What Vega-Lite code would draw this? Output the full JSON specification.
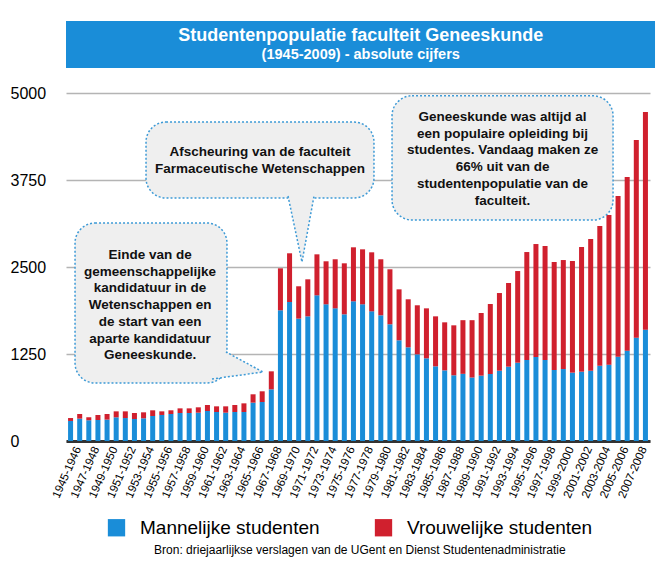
{
  "$schema": "https://vega.github.io/schema/vega-lite/v6.json",
  "width": 584,
  "height": 348,
  "autosize": {"type": "none"},
  "padding": {"left": 66, "top": 93, "right": 13, "bottom": 130},
  "background": "white",
  "config": {"view": {"stroke": null}, "font": "Liberation Sans"},
  "datasets": {
    "studenten": [
      {"jaar": "1945-1946", "Mannelijke studenten": 288, "Vrouwelijke studenten": 42},
      {"jaar": "1946-1947", "Mannelijke studenten": 321, "Vrouwelijke studenten": 67},
      {"jaar": "1947-1948", "Mannelijke studenten": 297, "Vrouwelijke studenten": 43},
      {"jaar": "1948-1949", "Mannelijke studenten": 302, "Vrouwelijke studenten": 72},
      {"jaar": "1949-1950", "Mannelijke studenten": 307, "Vrouwelijke studenten": 81},
      {"jaar": "1950-1951", "Mannelijke studenten": 340, "Vrouwelijke studenten": 86},
      {"jaar": "1951-1952", "Mannelijke studenten": 330, "Vrouwelijke studenten": 96},
      {"jaar": "1952-1953", "Mannelijke studenten": 316, "Vrouwelijke studenten": 86},
      {"jaar": "1953-1954", "Mannelijke studenten": 326, "Vrouwelijke studenten": 86},
      {"jaar": "1954-1955", "Mannelijke studenten": 359, "Vrouwelijke studenten": 82},
      {"jaar": "1955-1956", "Mannelijke studenten": 374, "Vrouwelijke studenten": 52},
      {"jaar": "1956-1957", "Mannelijke studenten": 388, "Vrouwelijke studenten": 53},
      {"jaar": "1957-1958", "Mannelijke studenten": 402, "Vrouwelijke studenten": 67},
      {"jaar": "1958-1959", "Mannelijke studenten": 402, "Vrouwelijke studenten": 67},
      {"jaar": "1959-1960", "Mannelijke studenten": 407, "Vrouwelijke studenten": 77},
      {"jaar": "1960-1961", "Mannelijke studenten": 431, "Vrouwelijke studenten": 86},
      {"jaar": "1961-1962", "Mannelijke studenten": 417, "Vrouwelijke studenten": 81},
      {"jaar": "1962-1963", "Mannelijke studenten": 407, "Vrouwelijke studenten": 91},
      {"jaar": "1963-1964", "Mannelijke studenten": 417, "Vrouwelijke studenten": 100},
      {"jaar": "1964-1965", "Mannelijke studenten": 417, "Vrouwelijke studenten": 124},
      {"jaar": "1965-1966", "Mannelijke studenten": 551, "Vrouwelijke studenten": 120},
      {"jaar": "1966-1967", "Mannelijke studenten": 560, "Vrouwelijke studenten": 154},
      {"jaar": "1967-1968", "Mannelijke studenten": 742, "Vrouwelijke studenten": 259},
      {"jaar": "1968-1969", "Mannelijke studenten": 1878, "Vrouwelijke studenten": 603},
      {"jaar": "1969-1970", "Mannelijke studenten": 1997, "Vrouwelijke studenten": 700},
      {"jaar": "1970-1971", "Mannelijke studenten": 1758, "Vrouwelijke studenten": 465},
      {"jaar": "1971-1972", "Mannelijke studenten": 1791, "Vrouwelijke studenten": 532},
      {"jaar": "1972-1973", "Mannelijke studenten": 2093, "Vrouwelijke studenten": 589},
      {"jaar": "1973-1974", "Mannelijke studenten": 1964, "Vrouwelijke studenten": 618},
      {"jaar": "1974-1975", "Mannelijke studenten": 1906, "Vrouwelijke studenten": 705},
      {"jaar": "1975-1976", "Mannelijke studenten": 1820, "Vrouwelijke studenten": 733},
      {"jaar": "1976-1977", "Mannelijke studenten": 2007, "Vrouwelijke studenten": 776},
      {"jaar": "1977-1978", "Mannelijke studenten": 1964, "Vrouwelijke studenten": 790},
      {"jaar": "1978-1979", "Mannelijke studenten": 1863, "Vrouwelijke studenten": 848},
      {"jaar": "1979-1980", "Mannelijke studenten": 1806, "Vrouwelijke studenten": 805},
      {"jaar": "1980-1981", "Mannelijke studenten": 1677, "Vrouwelijke studenten": 790},
      {"jaar": "1981-1982", "Mannelijke studenten": 1447, "Vrouwelijke studenten": 732},
      {"jaar": "1982-1983", "Mannelijke studenten": 1346, "Vrouwelijke studenten": 690},
      {"jaar": "1983-1984", "Mannelijke studenten": 1245, "Vrouwelijke studenten": 705},
      {"jaar": "1984-1985", "Mannelijke studenten": 1188, "Vrouwelijke studenten": 718},
      {"jaar": "1985-1986", "Mannelijke studenten": 1073, "Vrouwelijke studenten": 718},
      {"jaar": "1986-1987", "Mannelijke studenten": 1015, "Vrouwelijke studenten": 690},
      {"jaar": "1987-1988", "Mannelijke studenten": 944, "Vrouwelijke studenten": 718},
      {"jaar": "1988-1989", "Mannelijke studenten": 965, "Vrouwelijke studenten": 771},
      {"jaar": "1989-1990", "Mannelijke studenten": 912, "Vrouwelijke studenten": 824},
      {"jaar": "1990-1991", "Mannelijke studenten": 939, "Vrouwelijke studenten": 900},
      {"jaar": "1991-1992", "Mannelijke studenten": 963, "Vrouwelijke studenten": 1005},
      {"jaar": "1992-1993", "Mannelijke studenten": 1010, "Vrouwelijke studenten": 1116},
      {"jaar": "1993-1994", "Mannelijke studenten": 1068, "Vrouwelijke studenten": 1202},
      {"jaar": "1994-1995", "Mannelijke studenten": 1125, "Vrouwelijke studenten": 1317},
      {"jaar": "1995-1996", "Mannelijke studenten": 1164, "Vrouwelijke studenten": 1551},
      {"jaar": "1996-1997", "Mannelijke studenten": 1207, "Vrouwelijke studenten": 1623},
      {"jaar": "1997-1998", "Mannelijke studenten": 1164, "Vrouwelijke studenten": 1638},
      {"jaar": "1998-1999", "Mannelijke studenten": 1020, "Vrouwelijke studenten": 1552},
      {"jaar": "1999-2000", "Mannelijke studenten": 1034, "Vrouwelijke studenten": 1566},
      {"jaar": "2000-2001", "Mannelijke studenten": 982, "Vrouwelijke studenten": 1604},
      {"jaar": "2001-2002", "Mannelijke studenten": 996, "Vrouwelijke studenten": 1791},
      {"jaar": "2002-2003", "Mannelijke studenten": 1010, "Vrouwelijke studenten": 1892},
      {"jaar": "2003-2004", "Mannelijke studenten": 1082, "Vrouwelijke studenten": 2007},
      {"jaar": "2004-2005", "Mannelijke studenten": 1097, "Vrouwelijke studenten": 2150},
      {"jaar": "2005-2006", "Mannelijke studenten": 1212, "Vrouwelijke studenten": 2308},
      {"jaar": "2006-2007", "Mannelijke studenten": 1298, "Vrouwelijke studenten": 2495},
      {"jaar": "2007-2008", "Mannelijke studenten": 1485, "Vrouwelijke studenten": 2839},
      {"jaar": "2008-2009", "Mannelijke studenten": 1600, "Vrouwelijke studenten": 3127}
    ],
    "bubbels": [
      {"x": 0.99, "x2": 17.64, "y": 3132, "y2": 833},
      {"x": 8.77, "x2": 33.75, "y": 4583, "y2": 3491},
      {"x": 35.73, "x2": 59.95, "y": 4960, "y2": 3175}
    ],
    "staarten": [
      {"id": 1, "k": 0, "x": 16.0, "y": 891},
      {"id": 1, "k": 1, "x": 21.59, "y": 991},
      {"id": 1, "k": 2, "x": 17.53, "y": 1279},
      {"id": 2, "k": 0, "x": 24.33, "y": 3520},
      {"id": 2, "k": 1, "x": 25.86, "y": 2572},
      {"id": 2, "k": 2, "x": 27.18, "y": 3520}
    ],
    "teksten": [
      {"x": 9.21, "y": 2672, "t": ["Einde van de", "gemeenschappelijke", "kandidatuur in de", "Wetenschappen en", "de start van een", "aparte kandidatuur", "Geneeskunde."]},
      {"x": 21.26, "y": 4152, "t": ["Afscheuring van de faculteit", "Farmaceutische Wetenschappen"]},
      {"x": 47.84, "y": 4655, "t": ["Geneeskunde was altijd al", "een populaire opleiding bij", "studentes. Vandaag maken ze", "66% uit van de", "studentenpopulatie van de", "faculteit."]}
    ]
  },
  "layer": [
    {
      "data": {"values": [{"x": 0, "x2": 64.55, "y": 6034, "y2": 5359}]},
      "mark": {"type": "rect", "color": "#1a8dd8"},
      "encoding": {
        "x": {"field": "x", "type": "quantitative", "scale": {"domain": [0, 64], "nice": false, "zero": false}, "axis": null},
        "x2": {"field": "x2"},
        "y": {"field": "y", "type": "quantitative", "scale": {"domain": [0, 5000], "nice": false}},
        "y2": {"field": "y2"}
      }
    },
    {
      "data": {"values": [
        {"x": 32.3, "y": 5815, "t": "Studentenpopulatie faculteit Geneeskunde", "s": 18},
        {"x": 32.3, "y": 5540, "t": "(1945-2009) - absolute cijfers", "s": 14.5}
      ]},
      "mark": {"type": "text", "color": "white", "fontWeight": "bold", "align": "center", "baseline": "middle"},
      "encoding": {
        "x": {"field": "x", "type": "quantitative", "scale": {"domain": [0, 64], "nice": false, "zero": false}, "axis": null},
        "y": {"field": "y", "type": "quantitative", "scale": {"domain": [0, 5000], "nice": false}},
        "text": {"field": "t"},
        "size": {"field": "s", "type": "quantitative", "scale": null, "legend": null}
      }
    },
    {
      "data": {"name": "studenten"},
      "transform": [{"fold": ["Mannelijke studenten", "Vrouwelijke studenten"], "as": ["geslacht", "aantal"]}],
      "mark": {"type": "bar"},
      "encoding": {
        "x": {
          "field": "jaar", "type": "nominal", "sort": null,
          "scale": {"paddingInner": 0.45, "paddingOuter": 0.225},
          "axis": {
            "title": null,
            "values": ["1945-1946","1947-1948","1949-1950","1951-1952","1953-1954","1955-1956","1957-1958","1959-1960","1961-1962","1963-1964","1965-1966","1967-1968","1969-1970","1971-1972","1973-1974","1975-1976","1977-1978","1979-1980","1981-1982","1983-1984","1985-1986","1987-1988","1989-1990","1991-1992","1993-1994","1995-1996","1997-1998","1999-2000","2001-2002","2003-2004","2005-2006","2007-2008"],
            "labelAngle": -66, "labelAlign": "right", "labelBaseline": "middle",
            "labelFontSize": 11.5, "labelColor": "#000", "labelPadding": 6, "labelOffset": 8,
            "ticks": false, "grid": false, "domainColor": "#333333", "domainWidth": 3
          }
        },
        "y": {
          "field": "aantal", "type": "quantitative", "stack": "zero",
          "scale": {"domain": [0, 5000], "nice": false},
          "axis": {
            "title": null, "values": [0, 1250, 2500, 3750, 5000], "format": "d",
            "domain": false, "ticks": false, "labelAlign": "left", "labelPadding": 56,
            "labelFontSize": 16, "labelColor": "#000", "labelBaseline": "middle",
            "gridColor": "#b4b4b4", "gridWidth": 1.5
          }
        },
        "order": {"field": "geslacht", "sort": "ascending"},
        "color": {
          "field": "geslacht", "type": "nominal",
          "scale": {"domain": ["Mannelijke studenten", "Vrouwelijke studenten"], "range": ["#1a8dd8", "#d0202e"]},
          "legend": {
            "title": null, "orient": "none", "legendX": 41, "legendY": 425, "direction": "horizontal",
            "symbolType": "square", "symbolSize": 300, "symbolStrokeWidth": 0,
            "labelFontSize": 19, "labelColor": "#000", "labelOffset": 14, "labelLimit": 400, "columnPadding": 54
          }
        }
      }
    },
    {
      "data": {"name": "bubbels"},
      "mark": {"type": "rect", "fill": "#efefef", "stroke": "#3d9ad6", "strokeWidth": 1.5, "strokeDash": [2, 2], "cornerRadius": 20},
      "encoding": {
        "x": {"field": "x", "type": "quantitative", "scale": {"domain": [0, 64], "nice": false, "zero": false}, "axis": null},
        "x2": {"field": "x2"},
        "y": {"field": "y", "type": "quantitative", "scale": {"domain": [0, 5000], "nice": false}},
        "y2": {"field": "y2"}
      }
    },
    {
      "data": {"name": "staarten"},
      "mark": {"type": "line", "fill": "#efefef", "stroke": "#3d9ad6", "strokeWidth": 1.5, "strokeDash": [2, 2]},
      "encoding": {
        "x": {"field": "x", "type": "quantitative", "scale": {"domain": [0, 64], "nice": false, "zero": false}, "axis": null},
        "y": {"field": "y", "type": "quantitative", "scale": {"domain": [0, 5000], "nice": false}},
        "order": {"field": "k"},
        "detail": {"field": "id"}
      }
    },
    {
      "data": {"name": "teksten"},
      "mark": {"type": "text", "fontSize": 13.5, "fontWeight": "bold", "color": "#111", "align": "center", "baseline": "middle", "lineHeight": 16.7},
      "encoding": {
        "x": {"field": "x", "type": "quantitative", "scale": {"domain": [0, 64], "nice": false, "zero": false}, "axis": null},
        "y": {"field": "y", "type": "quantitative", "scale": {"domain": [0, 5000], "nice": false}},
        "text": {"field": "t"}
      }
    },
    {
      "data": {"values": [{"x": 32.2, "y": -1566, "t": "Bron: driejaarlijkse verslagen van de UGent en Dienst Studentenadministratie"}]},
      "mark": {"type": "text", "fontSize": 12, "color": "#000", "align": "center", "baseline": "middle"},
      "encoding": {
        "x": {"field": "x", "type": "quantitative", "scale": {"domain": [0, 64], "nice": false, "zero": false}, "axis": null},
        "y": {"field": "y", "type": "quantitative", "scale": {"domain": [0, 5000], "nice": false}},
        "text": {"field": "t"}
      }
    }
  ],
  "resolve": {"scale": {"x": "independent"}}
}
